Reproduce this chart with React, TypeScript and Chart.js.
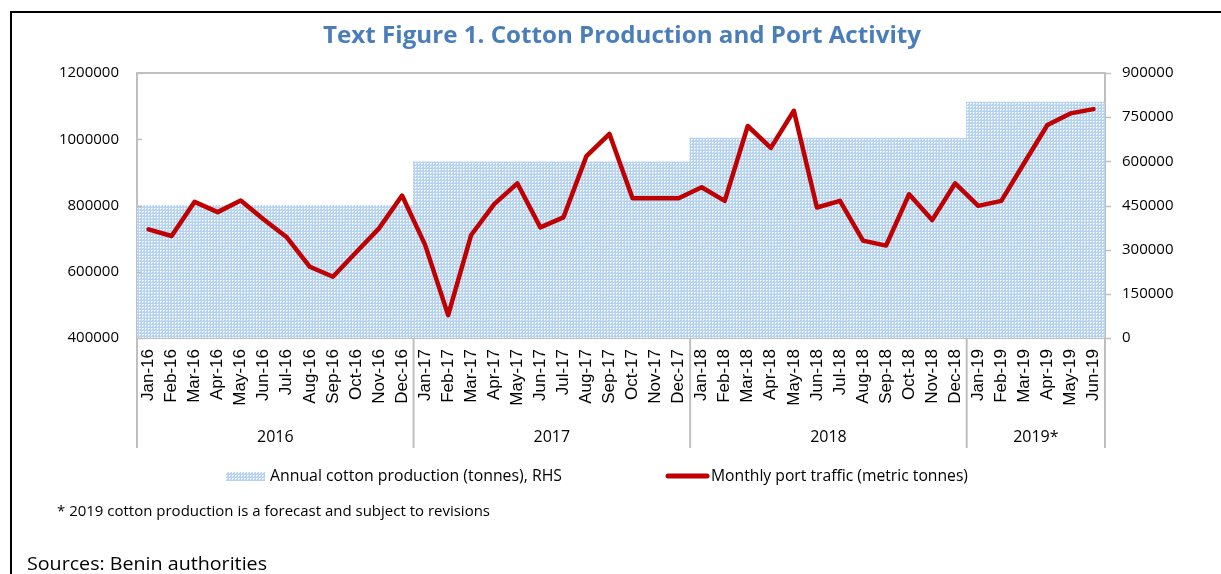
import React, { useEffect, useRef } from "react";
import { Chart, registerables } from "chart.js";

Chart.register(...registerables);

const monthLabels = [
  "Jan-16", "Feb-16", "Mar-16", "Apr-16", "May-16", "Jun-16", "Jul-16", "Aug-16", "Sep-16", "Oct-16", "Nov-16", "Dec-16",
  "Jan-17", "Feb-17", "Mar-17", "Apr-17", "May-17", "Jun-17", "Jul-17", "Aug-17", "Sep-17", "Oct-17", "Nov-17", "Dec-17",
  "Jan-18", "Feb-18", "Mar-18", "Apr-18", "May-18", "Jun-18", "Jul-18", "Aug-18", "Sep-18", "Oct-18", "Nov-18", "Dec-18",
  "Jan-19", "Feb-19", "Mar-19", "Apr-19", "May-19", "Jun-19",
];

const yearLabels = ["2016", "2017", "2018", "2019*"];
const monthsPerYear = [12, 12, 12, 6];
const annualCotton = [450000, 597000, 678000, 800000];

const portTraffic = [
  728000, 708000, 811000, 780000, 815000, 758000, 704000, 615000, 585000, 658000, 731000, 830000,
  681000, 469000, 711000, 804000, 867000, 734000, 764000, 949000, 1016000, 822000, 822000, 822000,
  855000, 814000, 1040000, 974000, 1086000, 794000, 814000, 694000, 679000, 834000, 756000, 867000,
  799000, 814000, 929000, 1043000, 1078000, 1091000,
];

const leftMin = 400000;
const leftMax = 1200000;
const leftStep = 200000;
const rightMin = 0;
const rightMax = 900000;
const rightStep = 150000;

const titleText = "Text Figure 1. Cotton Production and Port Activity";
const legendBarText = "Annual cotton production (tonnes), RHS";
const legendLineText = "Monthly port traffic (metric tonnes)";
const footnoteText = "* 2019 cotton production is a forecast and subject to revisions";
const sourcesText = "Sources: Benin authorities";

const GRAY = "#BFBFBF";
const RED = "#C00000";
const SANS = '"Open Sans", "DejaVu Sans", sans-serif';

function makePattern(ctx: CanvasRenderingContext2D) {
  const tile = document.createElement("canvas");
  tile.width = 3;
  tile.height = 3;
  const t = tile.getContext("2d")!;
  t.fillStyle = "#B5D2F0";
  t.fillRect(0, 0, 3, 3);
  t.fillStyle = "#FFFFFF";
  t.fillRect(1, 1, 1, 1);
  t.fillStyle = "#E2EEFA";
  t.fillRect(2, 1, 1, 1);
  t.fillRect(1, 2, 1, 1);
  return ctx.createPattern(tile, "repeat")!;
}

function fitText(ctx: CanvasRenderingContext2D, text: string, left: number, y: number, width: number) {
  const w = ctx.measureText(text).width;
  ctx.save();
  ctx.translate(left, y);
  ctx.scale(width / w, 1);
  ctx.textAlign = "left";
  ctx.fillText(text, 0, 0);
  ctx.restore();
}

export default function App() {
  const canvasRef = useRef<HTMLCanvasElement | null>(null);

  useEffect(() => {
    const canvas = canvasRef.current!;
    const ctx = canvas.getContext("2d")!;
    const pattern = makePattern(ctx);

    const monthlyCotton: number[] = [];
    monthsPerYear.forEach((n, i) => {
      for (let k = 0; k < n; k++) monthlyCotton.push(annualCotton[i]);
    });

    const decor = {
      id: "decor",
      beforeDraw(chart: any) {
        const c = chart.ctx;
        c.save();
        c.fillStyle = "#FFFFFF";
        c.fillRect(0, 0, chart.width, chart.height);
        c.restore();
      },
      afterDraw(chart: any) {
        const c: CanvasRenderingContext2D = chart.ctx;
        const a = chart.chartArea;
        const yL = chart.scales.yL;
        const yR = chart.scales.yR;
        const n = monthLabels.length;
        const catW = (a.right - a.left) / n;
        c.save();

        // plot top border
        c.strokeStyle = GRAY;
        c.lineWidth = 2;
        c.beginPath();
        c.moveTo(a.left, a.top);
        c.lineTo(a.right, a.top);
        c.stroke();

        // tick marks
        c.lineWidth = 1.5;
        for (let v = leftMin; v <= leftMax; v += leftStep) {
          const py = Math.round(yL.getPixelForValue(v)) + 0.5;
          c.beginPath();
          c.moveTo(a.left, py);
          c.lineTo(a.left + 5, py);
          c.stroke();
        }
        for (let v = rightMin; v <= rightMax; v += rightStep) {
          const py = Math.round(yR.getPixelForValue(v)) + 0.5;
          c.beginPath();
          c.moveTo(a.right, py);
          c.lineTo(a.right + 6, py);
          c.stroke();
        }

        // group separators and year labels
        c.lineWidth = 2;
        let cum = 0;
        const bounds = [0];
        monthsPerYear.forEach((m) => {
          cum += m;
          bounds.push(cum);
        });
        bounds.forEach((b) => {
          const px = a.left + b * catW;
          c.beginPath();
          c.moveTo(px, a.bottom);
          c.lineTo(px, a.bottom + 110);
          c.stroke();
        });
        c.fillStyle = "#000000";
        c.font = `16px ${SANS}`;
        c.textAlign = "center";
        c.textBaseline = "middle";
        yearLabels.forEach((lab, i) => {
          const mid = a.left + ((bounds[i] + bounds[i + 1]) / 2) * catW;
          c.fillText(lab, mid, a.bottom + 99);
        });

        // title
        c.fillStyle = "#4A7EBB";
        c.font = `bold 23px ${SANS}`;
        c.textBaseline = "middle";
        fitText(c, titleText, 323, 36, 598);

        // legend
        c.fillStyle = pattern;
        c.fillRect(226, 472, 39, 9);
        c.fillStyle = "#000000";
        c.font = `16px ${SANS}`;
        c.textBaseline = "middle";
        fitText(c, legendBarText, 270, 476, 292);
        c.strokeStyle = RED;
        c.lineWidth = 5;
        c.lineCap = "round";
        c.beginPath();
        c.moveTo(668, 476);
        c.lineTo(707, 476);
        c.stroke();
        fitText(c, legendLineText, 711, 476, 257);

        // footnotes
        c.font = `14px ${SANS}`;
        fitText(c, footnoteText, 57, 512, 433);
        c.font = `19px ${SANS}`;
        c.textBaseline = "alphabetic";
        fitText(c, sourcesText, 27, 570, 240);

        // frame
        c.strokeStyle = "#000000";
        c.lineWidth = 2;
        c.lineCap = "butt";
        c.beginPath();
        c.moveTo(11, chart.height);
        c.lineTo(11, 12);
        c.lineTo(chart.width, 12);
        c.stroke();

        c.restore();
      },
    };

    const chart = new Chart(ctx, {
      type: "bar",
      data: {
        labels: monthLabels,
        datasets: [
          {
            type: "line",
            label: legendLineText,
            data: portTraffic,
            yAxisID: "yL",
            borderColor: RED,
            borderWidth: 4.5,
            borderJoinStyle: "round",
            borderCapStyle: "round",
            pointRadius: 0,
            tension: 0,
            fill: false,
            order: 0,
          } as any,
          {
            type: "bar",
            label: legendBarText,
            data: monthlyCotton,
            yAxisID: "yR",
            backgroundColor: pattern as any,
            borderWidth: 0,
            categoryPercentage: 1,
            barPercentage: 1,
            inflateAmount: 0.6,
            order: 1,
          } as any,
        ],
      },
      options: {
        responsive: false,
        animation: false,
        events: [],
        layout: { padding: { top: 73, bottom: 126, left: 0, right: 0 }, autoPadding: false },
        plugins: {
          legend: { display: false },
          title: { display: false },
          tooltip: { enabled: false },
        },
        scales: {
          x: {
            type: "category",
            grid: { display: false, drawTicks: false },
            border: { display: true, color: GRAY, width: 2 },
            ticks: {
              autoSkip: false,
              minRotation: 90,
              maxRotation: 90,
              padding: 11,
              color: "#000000",
              font: { family: '"Liberation Sans", Arial, sans-serif', size: 17 },
            },
            afterFit: (s: any) => {
              s.height = 110;
            },
          },
          yL: {
            type: "linear",
            position: "left",
            min: leftMin,
            max: leftMax,
            grid: { display: false, drawTicks: false },
            border: { display: true, color: GRAY, width: 2 },
            ticks: {
              stepSize: leftStep,
              padding: 18,
              color: "#000000",
              font: { family: SANS, size: 15 },
              callback: (v: any) => String(v),
            },
            afterFit: (s: any) => {
              s.width = 137;
            },
          },
          yR: {
            type: "linear",
            position: "right",
            min: rightMin,
            max: rightMax,
            grid: { display: false, drawTicks: false },
            border: { display: true, color: GRAY, width: 2 },
            ticks: {
              stepSize: rightStep,
              padding: 17,
              color: "#000000",
              font: { family: SANS, size: 15 },
              callback: (v: any) => String(v),
            },
            afterFit: (s: any) => {
              s.width = 116;
            },
          },
        },
      },
      plugins: [decor],
    });

    return () => {
      chart.destroy();
    };
  }, []);

  return (
    <div style={{ position: "absolute", left: 0, top: 0, width: 1221, height: 574 }}>
      <canvas ref={canvasRef} width={1221} height={574} style={{ display: "block" }} />
    </div>
  );
}
